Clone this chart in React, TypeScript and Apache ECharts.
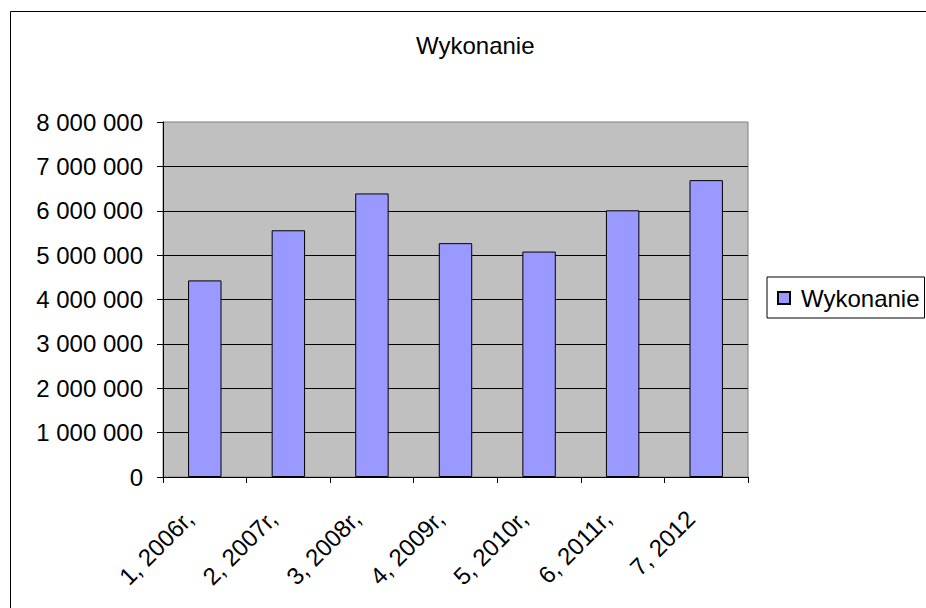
import React, { useEffect, useRef } from "react";
import * as echarts from "echarts";

const categories = ["1, 2006r,", "2, 2007r,", "3, 2008r,", "4, 2009r,", "5, 2010r,", "6, 2011r,", "7, 2012"];
const wykonanie = [4430000, 5560000, 6390000, 5270000, 5080000, 6010000, 6690000];
const seriesName = "Wykonanie";
const titleText = "Wykonanie";

const FONT = "'Liberation Sans', Arial, sans-serif";

function fmt(v: number): string {
  return String(Math.round(v)).replace(/\B(?=(\d{3})+(?!\d))/g, " ");
}

export default function App() {
  const ref = useRef<HTMLDivElement>(null);
  useEffect(() => {
    if (!ref.current) return;
    const chart = echarts.init(ref.current, undefined, { renderer: "svg" });
    chart.setOption({
      animation: false,
      backgroundColor: "#ffffff",
      title: {
        text: titleText,
        left: 411,
        top: 28,
        textStyle: { fontFamily: FONT, fontSize: 24, fontWeight: "normal", color: "#000" },
      },
      legend: {
        show: true,
        left: 767,
        top: 277,
        orient: "vertical",
        backgroundColor: "#fff",
        borderColor: "#000",
        borderWidth: 1,
        padding: [9, 5, 8, 10],
        itemWidth: 12,
        itemHeight: 12,
        icon: "rect",
        textStyle: { fontFamily: FONT, fontSize: 24, color: "#000", padding: [0, 0, 0, 6] },
        data: [seriesName],
      },
      grid: {
        left: 163,
        top: 122,
        right: 178,
        bottom: 131,
        show: true,
        backgroundColor: "#C0C0C0",
        borderColor: "#808080",
        borderWidth: 1,
      },
      xAxis: {
        type: "category",
        data: categories,
        axisLine: { show: true, lineStyle: { color: "#000", width: 1 } },
        axisTick: { show: true, alignWithLabel: false, length: 6, lineStyle: { color: "#000" } },
        axisLabel: {
          rotate: 45,
          interval: 0,
          margin: 22,
          fontFamily: FONT,
          fontSize: 24,
          color: "#000",
          formatter: (v: string) => `{a|${v}}`,
          rich: {
            a: { fontFamily: FONT, fontSize: 24, color: "#000", padding: [0, 22, 0, 0] },
          },
        },
        splitLine: { show: false },
      },
      yAxis: {
        type: "value",
        min: 0,
        max: 8000000,
        interval: 1000000,
        axisLine: { show: true, lineStyle: { color: "#000", width: 1 } },
        axisTick: { show: true, length: 6, lineStyle: { color: "#000" } },
        axisLabel: {
          margin: 20,
          fontFamily: FONT,
          fontSize: 24,
          color: "#000",
          formatter: (v: number) => fmt(v),
        },
        splitLine: { show: true, showMinLine: false, showMaxLine: false, lineStyle: { color: "#000", width: 1 } },
      },
      graphic: [
        {
          type: "rect",
          shape: { x: 10.5, y: 11.5, width: 1000, height: 800 },
          style: { fill: "none", stroke: "#000", lineWidth: 1 },
          silent: true,
          z: -1,
        },
      ],
      series: [
        {
          name: seriesName,
          type: "bar",
          data: wykonanie,
          barCategoryGap: "60%",
          itemStyle: { color: "#9999FF", borderColor: "#000", borderWidth: 1 },
        },
      ],
    });
    return () => chart.dispose();
  }, []);
  return (
    <div
      ref={ref}
      style={{ position: "fixed", left: 0, top: 0, width: 926, height: 608 }}
    />
  );
}
